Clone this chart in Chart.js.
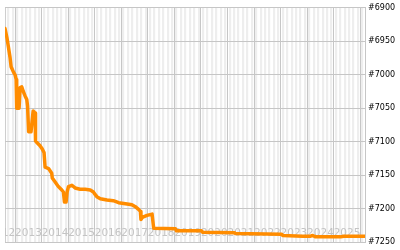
<!DOCTYPE html>
<html>
<head>
<meta charset="utf-8">
<script src="https://cdn.jsdelivr.net/npm/chart.js@4"></script>
<style>
  html, body { margin: 0; padding: 0; background: #fff; }
  #wrap { position: absolute; left: 5px; top: 0; width: 395px; height: 250px; }
</style>
</head>
<body>
<div id="wrap"><canvas id="rankChart"></canvas></div>
<script>
// decimal years and rank values
const dates = [2012.62, 2012.69, 2012.75, 2012.81, 2012.85, 2012.94, 2013.00, 2013.04, 2013.06, 2013.15,
    2013.19, 2013.25, 2013.31, 2013.38, 2013.44, 2013.47, 2013.51, 2013.60, 2013.68, 2013.75,
    2013.77, 2013.82, 2013.94, 2014.01, 2014.09, 2014.13, 2014.26, 2014.38, 2014.40, 2014.51,
    2014.63, 2014.76, 2014.82, 2014.86, 2014.92, 2014.96, 2015.01, 2015.14, 2015.26, 2015.45,
    2015.64, 2015.83, 2015.95, 2016.02, 2016.08, 2016.21, 2016.46, 2016.70, 2016.90, 2017.22,
    2017.40, 2017.53, 2017.65, 2017.72, 2017.74, 2017.79, 2017.97, 2018.16, 2018.22, 2019.04,
    2019.08, 2020.02, 2020.06, 2021.26, 2021.30, 2023.04, 2023.08, 2023.83, 2024.13, 2024.21,
    2024.32, 2025.26, 2025.38, 2026.18];
const ranks = [6931, 6944, 6959, 6974, 6988, 6996, 7000, 7007, 7050, 7050,
    7019, 7018, 7025, 7032, 7037, 7047, 7085, 7085, 7054, 7057,
    7099, 7101, 7106, 7110, 7116, 7138, 7140, 7147, 7154, 7160,
    7167, 7172, 7175, 7190, 7190, 7175, 7167, 7165, 7169, 7171,
    7171, 7172, 7175, 7179, 7182, 7185, 7187, 7188, 7191, 7193,
    7194, 7197, 7201, 7204, 7216, 7213, 7210, 7208, 7229, 7230,
    7233, 7233, 7235, 7236, 7237, 7238, 7240, 7241, 7241, 7240,
    7242, 7242, 7241, 7241];
const yearLabels = [2012, 2013, 2014, 2015, 2016, 2017, 2018, 2019, 2020, 2021, 2022, 2023, 2024, 2025];
const rankTicks = [6900, 6950, 7000, 7050, 7100, 7150, 7200, 7250];

const xMin = 2012.62;
const xMax = 2026.18;
const major = '#c6c6c6';
const stripe = '#eeeeee';

function monthOf(v) {
    return Math.round((v - Math.floor(v + 1e-6)) * 12) % 12;
}

new Chart(document.getElementById('rankChart'), {
    type: 'line',
    data: {
        datasets: [{
            data: dates.map((d, i) => ({ x: d, y: ranks[i] })),
            borderColor: '#ff8c00',
            borderWidth: 3.5,
            borderJoinStyle: 'round',
            borderCapStyle: 'round',
            pointRadius: 0,
            tension: 0,
            fill: false
        }]
    },
    options: {
        responsive: true,
        maintainAspectRatio: false,
        animation: false,
        layout: { padding: { top: 5, left: 0, right: 0, bottom: 0 } },
        plugins: { legend: { display: false }, tooltip: { enabled: false } },
        scales: {
            x: {
                type: 'linear',
                min: xMin,
                max: xMax,
                afterBuildTicks: scale => {
                    const t = [{ value: xMin }];
                    yearLabels.concat([2026]).forEach(y => {
                        for (let m = 0; m < 12; m++) {
                            const v = y + m / 12;
                            if (v <= xMax) t.push({ value: v });
                        }
                    });
                    scale.ticks = t;
                },
                afterFit: scale => {
                    scale.height = 7;
                    scale.paddingLeft = 0;
                    scale.paddingRight = 0;
                },
                grid: {
                    drawTicks: false,
                    color: c => {
                        const v = c.tick ? c.tick.value : 0;
                        if (v === xMin) return major;
                        const m = monthOf(v);
                        if (m === 0) return major;
                        return m % 2 === 1 ? stripe : 'rgba(0,0,0,0)';
                    },
                    lineWidth: c => {
                        const v = c.tick ? c.tick.value : 0;
                        if (v === xMin) return 1;
                        return monthOf(v) === 0 ? 1 : 2.2;
                    }
                },
                border: { color: major },
                ticks: {
                    autoSkip: false,
                    maxRotation: 0,
                    mirror: true,
                    align: 'start',
                    padding: 3,
                    color: '#c4c4c4',
                    font: { family: 'DejaVu Sans', size: 10.5 },
                    callback: v => {
                        const y = Math.round(v);
                        return (Math.abs(v - y) < 1e-6 && yearLabels.includes(y)) ? String(y) : '';
                    }
                }
            },
            y: {
                position: 'right',
                reverse: true,
                min: rankTicks[0],
                max: rankTicks[rankTicks.length - 1],
                afterBuildTicks: scale => {
                    scale.ticks = rankTicks.map(v => ({ value: v }));
                },
                afterFit: scale => { scale.width = 35; },
                grid: { drawTicks: false, color: major },
                border: { color: major },
                ticks: {
                    padding: 3,
                    color: '#000',
                    font: { family: 'DejaVu Sans', size: 8 },
                    callback: v => '#' + v
                }
            }
        }
    }
});
</script>
</body>
</html>
